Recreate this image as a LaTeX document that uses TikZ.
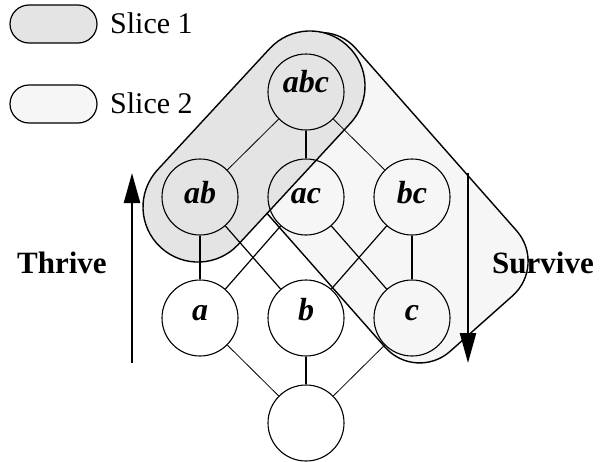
\documentclass[tikz,border=0pt]{standalone}
\usepackage{fontspec}
\setmainfont{Liberation Serif}
\usetikzlibrary{arrows.meta}
\definecolor{sliceA}{gray}{0.895}
\definecolor{sliceB}{gray}{0.965}
\begin{document}
\begin{tikzpicture}[x=1pt,y=-1pt,
  outl/.style={draw=black, line width=1.4pt},
  legendbox/.style={draw=black, line width=1.2pt, rounded corners=19pt, minimum width=87pt, minimum height=38pt, inner sep=0pt},
  lat/.style={circle, draw, line width=1.1pt, minimum size=76pt, inner sep=0pt, text depth=0pt, font=\fontsize{32}{38}\selectfont\bfseries\itshape},
  thickedge/.style={line width=2pt},
  midedge/.style={line width=1.2pt},
  thinedge/.style={line width=0.8pt},
  bigarrow/.style={line width=2.4pt, -{Triangle[length=30pt,width=16pt]}},
  lbl/.style={anchor=base west, inner sep=0pt},
]
\useasboundingbox (0,0) rectangle (607,461);
% Slice 2 (behind)
\draw[outl, fill=sliceB, rounded corners=46pt]
  (325.0,13.6) -- (547.0,265.2) -- (415.7,381.9) -- (193.7,130.3) -- cycle;
% Slice 1 (front)
\draw[outl, fill=sliceA, rounded corners=54.9pt]
  (306.9,8.3) -- (387.7,82.9) -- (201.1,284.7) -- (120.3,210.1) -- cycle;
% legend
\node[legendbox, fill=sliceA] (leg1) at (53.5,24) {};
\node[legendbox, fill=sliceB] (leg2) at (53.5,104) {};
\node[lbl, font=\fontsize{30}{36}\selectfont] (leg1t) at (110,33) {Slice 1};
\node[lbl, font=\fontsize{30}{36}\selectfont] (leg2t) at (110,113) {Slice 2};
% lattice nodes
\node[lat, text height=1pt] (abc) at (306,92) {abc};
\node[lat, text height=12pt] (ab) at (200,197) {ab};
\node[lat, text height=12pt] (ac) at (306,197) {ac};
\node[lat, text height=12pt] (bc) at (412,197) {bc};
\node[lat, text height=4pt] (a) at (200,318) {a};
\node[lat, text height=4pt] (b) at (306,318) {b};
\node[lat, text height=4pt] (c) at (412,318) {c};
\node[lat] (bot) at (306,423) {};
% edges
\draw[thinedge] (abc) -- (ab);
\draw[thickedge] (abc) -- (ac);
\draw[thinedge] (abc) -- (bc);
\draw[thickedge] (ab) -- (a);
\draw[midedge] (ab) -- (b);
\draw[midedge] (ac) -- (a);
\draw[midedge] (ac) -- (c);
\draw[midedge] (bc) -- (b);
\draw[thickedge] (bc) -- (c);
\draw[thinedge] (a) -- (bot);
\draw[thickedge] (b) -- (bot);
\draw[thinedge] (c) -- (bot);
% arrows
\coordinate (thriveS) at (132,363);
\coordinate (thriveE) at (132,173);
\coordinate (surviveS) at (468,173);
\coordinate (surviveE) at (468,363);
\draw[bigarrow] (thriveS) -- (thriveE);
\draw[bigarrow] (surviveS) -- (surviveE);
\node[lbl, font=\fontsize{31}{37}\selectfont\bfseries] (thrive) at (17,273) {Thrive};
\node[lbl, font=\fontsize{31}{37}\selectfont\bfseries] (survive) at (492,273) {Survive};
\end{tikzpicture}
\end{document}
